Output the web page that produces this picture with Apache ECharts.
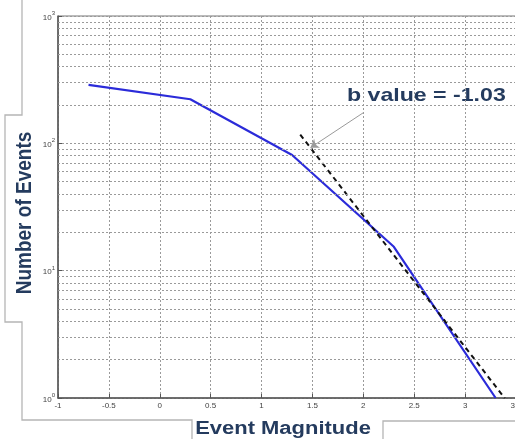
<!DOCTYPE html>
<html>
<head>
<meta charset="utf-8">
<script src="https://cdn.jsdelivr.net/npm/echarts@6/dist/echarts.min.js"></script>
<style>
  html, body { margin: 0; padding: 0; background: #fff; overflow: hidden; width: 515px; height: 439px; }
  #chart { width: 535px; height: 439px; }
</style>
</head>
<body>
<div id="chart"></div>
<script>
// Cumulative event counts per magnitude
const magnitudes = [-0.7, 0.3, 1.3, 2.3, 3.3];
const eventCounts = [288, 222, 81, 15.4, 1];

// Gutenberg-Richter fit: log10(N) = aValue + bValue * M
const bValue = -1.03;
const aValue = 3.49;
const fitRange = [1.38, 3.39];

// Axis setup
const xTicks = [-1, -0.5, 0, 0.5, 1, 1.5, 2, 2.5, 3, 3.5];
const yDecades = [1, 10, 100, 1000];
const yMinorLines = [2, 3, 4, 5, 6, 7, 8, 9, 20, 30, 40, 50, 60, 70, 80, 90, 200, 300, 400, 500, 600, 700, 800, 900];

// Annotation arrow: from the label toward the fit line
const arrowFrom = [2.0, 174];
const arrowToMag = 1.48;

const FONT = '"Liberation Sans", Arial, sans-serif';
const NAVY = '#243b5e';

const fitY = m => Math.pow(10, aValue + bValue * m);
const lineData = magnitudes.map((m, i) => [m, eventCounts[i]]);
const fitData = fitRange.map(m => [m, fitY(m)]);

const chart = echarts.init(document.getElementById('chart'), null, { renderer: 'canvas' });

const gridDots = { color: '#9a9a9a', width: 1, type: [2, 2] };

chart.setOption({
  animation: false,
  backgroundColor: '#fff',
  grid: {
    left: 58, top: 16, width: 458, height: 382,
    show: true, borderColor: '#777', borderWidth: 1, backgroundColor: '#fff'
  },
  xAxis: {
    type: 'value',
    min: xTicks[0], max: xTicks[xTicks.length - 1], interval: 0.5,
    axisLine: { show: true, onZero: false, lineStyle: { color: '#555', width: 1.5 } },
    axisTick: { show: true, inside: true, length: 4, lineStyle: { color: '#555' } },
    axisLabel: { fontFamily: FONT, fontSize: 8, color: '#444', margin: 4 },
    splitLine: { show: true, lineStyle: gridDots }
  },
  yAxis: {
    type: 'log', logBase: 10,
    min: yDecades[0], max: yDecades[yDecades.length - 1],
    axisLine: { show: true, onZero: false, lineStyle: { color: '#555', width: 1.5 } },
    axisTick: { show: true, inside: true, length: 4, lineStyle: { color: '#555' } },
    axisLabel: {
      margin: 3,
      formatter: v => '{b|10}{s|' + Math.round(Math.log10(v)) + '}',
      rich: {
        b: { fontFamily: FONT, fontSize: 8, color: '#444', verticalAlign: 'bottom' },
        s: { fontFamily: FONT, fontSize: 6, color: '#444', verticalAlign: 'top', padding: [0, 0, 5, 0] }
      }
    },
    splitLine: { show: true, lineStyle: gridDots }
  },
  series: [
    {
      // minor log grid lines
      type: 'line',
      data: [],
      silent: true,
      z: 1,
      markLine: {
        silent: true,
        symbol: ['none', 'none'],
        label: { show: false },
        lineStyle: gridDots,
        data: yMinorLines.map(v => ({ yAxis: v }))
      }
    },
    {
      name: 'Events',
      type: 'line',
      data: lineData,
      showSymbol: false,
      z: 3,
      lineStyle: { color: '#2b2bd9', width: 2.2 }
    },
    {
      name: 'Fit',
      type: 'line',
      data: fitData,
      showSymbol: false,
      z: 4,
      lineStyle: { color: '#111', width: 2, type: [5, 4] },
      markLine: {
        silent: true,
        symbol: ['none', 'arrow'],
        symbolSize: 8,
        label: { show: false },
        lineStyle: { color: '#9a9a9a', width: 1, type: 'solid' },
        data: [[{ coord: arrowFrom }, { coord: [arrowToMag, fitY(arrowToMag)] }]]
      }
    }
  ],
  graphic: [
    {
      type: 'polyline', silent: true,
      shape: { points: [[22, 0], [22, 115], [5, 115], [5, 322], [22, 322], [22, 420], [192, 420], [192, 439]] },
      style: { stroke: '#b5b5b5', lineWidth: 1.3, fill: null }
    },
    {
      type: 'polyline', silent: true,
      shape: { points: [[383, 439], [383, 421], [520, 421]] },
      style: { stroke: '#b5b5b5', lineWidth: 1.3, fill: null }
    },
    {
      type: 'text', silent: true, x: 25, y: 213, rotation: Math.PI / 2, scaleY: 1.15,
      style: { text: 'Number of Events', font: 'bold 19px ' + FONT, fill: NAVY, align: 'center', verticalAlign: 'middle' }
    },
    {
      type: 'text', silent: true, x: 283, y: 429, scaleX: 1.22,
      style: { text: 'Event Magnitude', font: 'bold 18px ' + FONT, fill: NAVY, align: 'center', verticalAlign: 'middle' }
    },
    {
      type: 'text', silent: true, x: 347, y: 96, scaleX: 1.25,
      style: { text: 'b value = ' + bValue.toFixed(2), font: 'bold 18.5px ' + FONT, fill: NAVY, align: 'left', verticalAlign: 'middle' }
    }
  ]
});
</script>
</body>
</html>
